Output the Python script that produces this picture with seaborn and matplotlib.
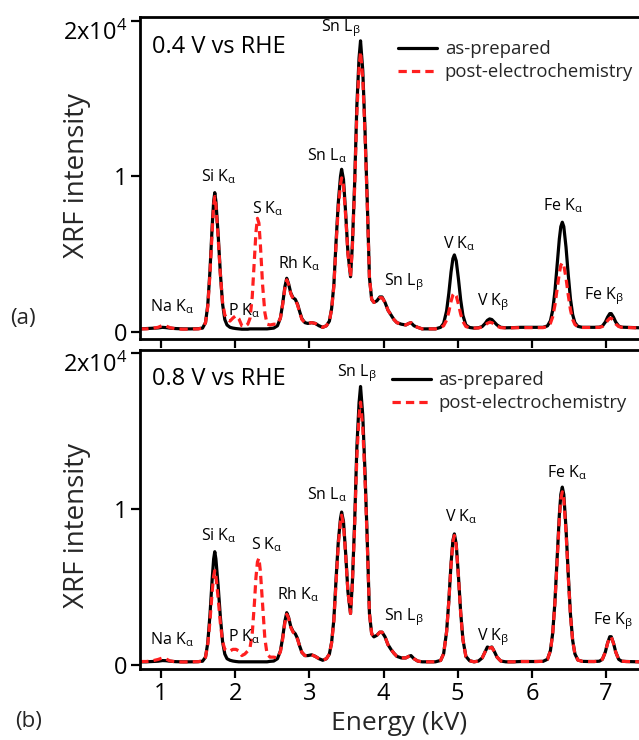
import numpy as np
import pandas as pd
import matplotlib
matplotlib.use("Agg")
import matplotlib.pyplot as plt
import matplotlib.transforms as mtransforms
from matplotlib.lines import Line2D
import seaborn as sns

# ---------------- data ----------------
energy_kV = [
    0.72, 0.80, 0.88, 0.96, 1.02, 1.07, 1.12, 1.20, 1.30, 1.40, 1.50, 1.56,
    1.60, 1.63, 1.66, 1.69, 1.71, 1.725, 1.74, 1.77, 1.80, 1.83, 1.86, 1.89,
    1.93, 1.97, 2.01, 2.05, 2.09, 2.13, 2.17,
    2.20, 2.23, 2.26, 2.28, 2.30, 2.32, 2.34, 2.37, 2.40, 2.43, 2.47,
    2.52, 2.57, 2.61, 2.64, 2.67, 2.695, 2.72, 2.75, 2.78, 2.81, 2.84, 2.87, 2.90, 2.94, 2.98, 3.03, 3.08, 3.13, 3.18, 3.23,
    3.27, 3.30, 3.33, 3.36, 3.39, 3.42, 3.435, 3.46, 3.49, 3.52, 3.555, 3.58, 3.61, 3.64, 3.67, 3.69, 3.72, 3.75, 3.78, 3.81,
    3.84, 3.87, 3.91, 3.95, 3.98, 4.02, 4.06, 4.10, 4.14, 4.18, 4.24, 4.30, 4.34, 4.37, 4.41, 4.46, 4.52, 4.60, 4.70,
    4.77, 4.81, 4.85, 4.88, 4.91, 4.935, 4.955, 4.98, 5.01, 5.04, 5.07, 5.11, 5.16,
    5.22, 5.28, 5.33, 5.37, 5.40, 5.43, 5.46, 5.49, 5.53, 5.58, 5.65,
    5.75, 5.85, 5.95, 6.05, 6.15,
    6.21, 6.25, 6.28, 6.31, 6.34, 6.37, 6.39, 6.41, 6.43, 6.46, 6.49, 6.52, 6.55, 6.58, 6.62, 6.68,
    6.76, 6.84, 6.91, 6.95, 6.99, 7.02, 7.05, 7.07, 7.10, 7.13, 7.17, 7.21, 7.27, 7.35, 7.45,
]

a_as_prepared = [
    200, 220, 240, 260, 300, 280, 250, 220, 200, 200, 210, 250,
    600, 1700, 3900, 6800, 8400, 8950, 8400, 6300, 3800, 1800, 800, 450,
    300, 250, 220, 200, 180, 180, 180,
    200, 200, 200, 200, 200, 200, 200, 200, 200, 200, 220,
    250, 400, 900, 1800, 2900, 3450, 3100, 2500, 2200, 2100, 1800, 1300, 850, 600, 550, 600, 550, 400, 300, 400,
    700, 1500, 3000, 5800, 8300, 10000, 10450, 9800, 7600, 5100, 3550, 5600, 9500, 14500, 17600, 18700, 16800, 13000, 8500, 3500,
    2100, 1900, 2000, 2250, 2250, 1900, 1400, 1100, 800, 600, 500, 450, 550, 600, 400, 300, 200, 200, 200,
    300, 550, 1350, 2480, 3850, 4710, 4950, 4570, 3400, 2060, 1070, 450, 290,
    250, 270, 350, 550, 750, 840, 800, 650, 450, 300, 270,
    280, 300, 300, 300, 300,
    390, 725, 1390, 2590, 4280, 5980, 6770, 7050, 6770, 5450, 3680, 2120, 1110, 600, 360, 300,
    300, 300, 310, 380, 640, 950, 1180, 1180, 950, 640, 380, 310, 300, 280, 270,
]
a_post_ec = [
    200, 200, 230, 300, 420, 380, 280, 200, 180, 190, 200, 250,
    600, 1600, 3700, 6500, 8150, 8700, 8150, 6100, 3700, 1900, 1100, 850,
    700, 900, 1050, 850, 400, 350, 500,
    880, 2260, 4700, 6400, 7300, 7000, 5600, 3000, 1250, 500, 450,
    500, 500, 900, 1750, 2800, 3350, 3050, 2450, 2150, 2050, 1750, 1250, 800, 600, 550, 600, 550, 400, 300, 400,
    700, 1450, 2900, 5600, 8000, 9500, 9900, 9400, 7400, 5000, 3550, 5500, 9200, 14000, 17000, 18000, 16300, 12700, 8300, 3500,
    2100, 1900, 2000, 2200, 2200, 1900, 1400, 1100, 800, 600, 500, 450, 550, 600, 400, 300, 200, 200, 200,
    300, 400, 760, 1300, 1970, 2380, 2500, 2320, 1780, 1150, 680, 350, 270,
    250, 260, 320, 450, 560, 620, 600, 500, 370, 280, 260,
    270, 280, 280, 280, 280,
    350, 560, 970, 1710, 2740, 3790, 4280, 4450, 4280, 3470, 2380, 1420, 800, 480, 330, 290,
    290, 290, 300, 350, 520, 730, 880, 880, 730, 520, 350, 300, 290, 270, 260,
]
b_as_prepared = [
    200, 200, 220, 240, 280, 270, 240, 210, 200, 200, 210, 240,
    500, 1400, 3200, 5500, 6800, 7260, 6800, 5100, 3100, 1500, 700, 400,
    300, 250, 220, 200, 200, 200, 200,
    200, 200, 200, 200, 200, 200, 200, 200, 200, 200, 230,
    250, 400, 900, 1750, 2800, 3350, 3050, 2450, 2150, 2000, 1700, 1200, 800, 600, 600, 650, 550, 400, 300, 400,
    700, 1450, 2900, 5500, 7900, 9400, 9800, 9200, 7100, 4700, 3300, 5300, 9100, 13900, 16800, 17850, 16000, 12400, 8100, 3300,
    2000, 1800, 1900, 2100, 2100, 1800, 1300, 1000, 750, 550, 450, 450, 550, 600, 400, 250, 200, 200, 200,
    290, 720, 2130, 4100, 6480, 7980, 8400, 7740, 5690, 3370, 1640, 550, 270,
    200, 250, 450, 850, 1150, 1100, 1150, 900, 500, 250, 200,
    200, 220, 220, 220, 230,
    365, 924, 2020, 4010, 6805, 9620, 10930, 11400, 10930, 8750, 5810, 3240, 1560, 710, 315, 230,
    220, 220, 240, 360, 830, 1400, 1810, 1810, 1400, 830, 360, 240, 220, 210, 200,
]
b_post_ec = [
    220, 220, 260, 350, 450, 380, 260, 200, 190, 200, 210, 250,
    500, 1300, 2800, 4700, 5700, 6050, 5700, 4300, 2700, 1500, 1000, 900,
    900, 1000, 1000, 900, 600, 700, 900,
    1100, 2000, 4000, 5600, 6600, 6850, 6000, 3800, 1700, 700, 500,
    500, 450, 850, 1650, 2700, 3250, 3000, 2400, 2100, 1950, 1650, 1200, 800, 600, 600, 650, 550, 400, 300, 400,
    700, 1400, 2800, 5300, 7700, 9200, 9600, 9000, 7000, 4700, 3300, 5200, 8800, 13300, 16000, 16850, 15200, 11900, 7900, 3300,
    2000, 1800, 1900, 2100, 2100, 1800, 1300, 1000, 750, 550, 450, 450, 550, 600, 400, 250, 200, 200, 200,
    290, 710, 2100, 4050, 6400, 7880, 8300, 7650, 5620, 3330, 1620, 540, 270,
    200, 250, 450, 850, 1130, 1080, 1130, 880, 500, 250, 200,
    200, 220, 220, 220, 230,
    360, 905, 1970, 3910, 6630, 9370, 10640, 11100, 10640, 8520, 5660, 3160, 1530, 700, 310, 230,
    220, 220, 240, 360, 820, 1380, 1790, 1790, 1380, 820, 360, 240, 220, 210, 200,
]

series_names = ["as-prepared", "post-electrochemistry"]
panel_titles = ["0.4 V vs RHE", "0.8 V vs RHE"]
panel_tags = ["(a)", "(b)"]
x_ticks = [1, 2, 3, 4, 5, 6, 7]
y_ticks = [0, 10000, 20000]
y_tick_labels = ["0", "1", "2x10$^{4}$"]

# peak labels: (text, energy, intensity) per panel
labels_a = [
    ("Na K$_{\\alpha}$", 1.15, 1600), ("Si K$_{\\alpha}$", 1.78, 10000),
    ("P K$_{\\alpha}$", 2.12, 1400), ("S K$_{\\alpha}$", 2.44, 7900),
    ("Rh K$_{\\alpha}$", 2.87, 4400), ("Sn L$_{\\alpha}$", 3.24, 11300),
    ("Sn L$_{\\beta}$", 3.42, 19500), ("Sn L$_{\\beta}$", 4.28, 3200),
    ("V K$_{\\alpha}$", 5.02, 5700), ("V K$_{\\beta}$", 5.47, 1900),
    ("Fe K$_{\\alpha}$", 6.42, 8100), ("Fe K$_{\\beta}$", 6.97, 2300),
]
labels_b = [
    ("Na K$_{\\alpha}$", 1.15, 1600), ("Si K$_{\\alpha}$", 1.78, 8300),
    ("P K$_{\\alpha}$", 2.12, 1800), ("S K$_{\\alpha}$", 2.43, 7700),
    ("Rh K$_{\\alpha}$", 2.85, 4500), ("Sn L$_{\\alpha}$", 3.24, 10900),
    ("Sn L$_{\\beta}$", 3.64, 18700), ("Sn L$_{\\beta}$", 4.28, 3100),
    ("V K$_{\\alpha}$", 5.04, 9500), ("V K$_{\\beta}$", 5.47, 1800),
    ("Fe K$_{\\alpha}$", 6.47, 12300), ("Fe K$_{\\beta}$", 7.09, 2800),
]

assert len(energy_kV) == len(a_as_prepared) == len(a_post_ec) == len(b_as_prepared) == len(b_post_ec)

# ---------------- style ----------------
sns.set_style("ticks")
plt.rcParams["font.family"] = ["Open Sans", "DejaVu Sans"]
plt.rcParams["mathtext.fontset"] = "custom"
plt.rcParams["mathtext.rm"] = "Open Sans"
plt.rcParams["mathtext.it"] = "Open Sans"
plt.rcParams["mathtext.default"] = "regular"

BLACK = "#000000"
RED = "#ff1f1f"
palette = {series_names[0]: BLACK, series_names[1]: RED}
dashes = {series_names[0]: "", series_names[1]: (2.6, 1.6)}

W, H = 639, 740
fig = plt.figure(figsize=(W / 100, H / 100), dpi=100)
ax_a = fig.add_axes([140 / W, 1 - 339 / H, 518 / W, 322 / H])
ax_b = fig.add_axes([140 / W, 1 - 669 / H, 518 / W, 319 / H])

panels = [
    (ax_a, a_as_prepared, a_post_ec, labels_a, (-450, 20230)),
    (ax_b, b_as_prepared, b_post_ec, labels_b, (-260, 20190)),
]

for i, (ax, blk, red, labs, ylim) in enumerate(panels):
    df = pd.DataFrame({
        "Energy": energy_kV * 2,
        "Intensity": list(blk) + list(red),
        "Sample": [series_names[0]] * len(blk) + [series_names[1]] * len(red),
    })
    sns.lineplot(data=df, x="Energy", y="Intensity", hue="Sample", style="Sample",
                 palette=palette, dashes=dashes, hue_order=series_names,
                 style_order=series_names, estimator=None, sort=False,
                 linewidth=2.3, legend=False, ax=ax)
    ax.set_xlim(0.717, 7.70)
    ax.set_ylim(*ylim)
    ax.set_xlabel("")
    ax.set_ylabel("")
    ax.set_xticks(x_ticks)
    ax.set_yticks(y_ticks)
    ax.set_yticklabels(y_tick_labels)
    for s in ["top", "left", "bottom"]:
        ax.spines[s].set_linewidth(2.0)
        ax.spines[s].set_color("black")
    ax.spines["right"].set_visible(False)
    ax.tick_params(axis="both", direction="out", length=6.5, width=1.6,
                   labelsize=17, pad=2.5, colors="black")
    # the top label ("2x10^4") sits a little below its tick, as in the reference
    top_lbl = ax.get_yticklabels()[-1]
    top_lbl.set_transform(top_lbl.get_transform() +
                          mtransforms.ScaledTranslation(0, -7 / 72, fig.dpi_scale_trans))
    for t, x, y in labs:
        ax.text(x, y, t, ha="center", va="center", fontsize=11.5, color="black")
    ax.text(0.88, 18300, panel_titles[i], ha="left", va="center", fontsize=17, color="black")
    handles = [Line2D([], [], color=BLACK, lw=2.3),
               Line2D([], [], color=RED, lw=2.3, dashes=(2.6, 1.6))]
    anchor = (0.498, 0.928) if i == 0 else (0.486, 0.934)
    ax.legend(handles, series_names, loc="upper left", bbox_to_anchor=anchor,
              frameon=False, fontsize=13.3, handlelength=2.1, handletextpad=0.43,
              labelspacing=0.28, borderpad=0, borderaxespad=0)

ax_a.tick_params(axis="x", labelbottom=False)
ax_b.set_xlabel("Energy (kV)", fontsize=19, labelpad=4)

fig.text(77 / W, 1 - 175 / H, "XRF intensity", rotation=90, ha="center", va="center", fontsize=20)
fig.text(77 / W, 1 - 525 / H, "XRF intensity", rotation=90, ha="center", va="center", fontsize=20)
fig.text(10 / W, 1 - 318 / H, panel_tags[0], ha="left", va="center", fontsize=16)
fig.text(15 / W, 1 - 722 / H, panel_tags[1], ha="left", va="center", fontsize=16)

fig.savefig("out.png", dpi=100)
